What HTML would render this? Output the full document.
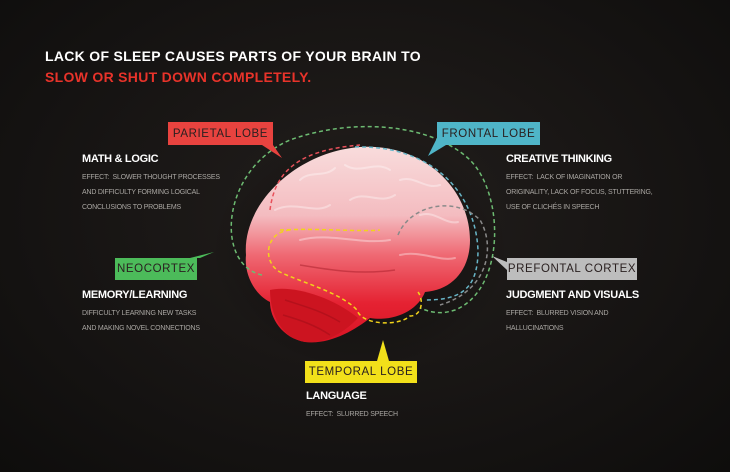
<!DOCTYPE html>
<html><head><meta charset="utf-8"><style>
html,body{margin:0;padding:0}
body{width:730px;height:472px;background:radial-gradient(ellipse at 50% 45%,#221e1c 0%,#141211 70%,#0e0d0c 100%);position:relative;overflow:hidden;font-family:"Liberation Sans",sans-serif}
.t{position:absolute;white-space:nowrap}
.h{color:#fff;font-weight:bold;font-size:11px;letter-spacing:-0.3px}
.e{color:#a9a6a2;font-size:7px;line-height:15px;letter-spacing:-0.2px}
.box{position:absolute;font-size:11.5px;letter-spacing:0.6px;display:flex;align-items:center;justify-content:center;color:#2a2020}
</style></head><body>
<div class="t" style="left:45px;top:48px;color:#fff;font-weight:bold;font-size:14px;letter-spacing:0.3px">LACK OF SLEEP CAUSES PARTS OF YOUR BRAIN TO</div>
<div class="t" style="left:45px;top:69px;color:#e8332a;font-weight:bold;font-size:14px;letter-spacing:0.3px">SLOW OR SHUT DOWN COMPLETELY.</div>

<svg width="730" height="472" style="position:absolute;left:0;top:0">
<defs>
<linearGradient id="g" x1="0" y1="0" x2="0" y2="1">
<stop offset="0" stop-color="#f8dcdc"/><stop offset="0.35" stop-color="#f4bcc0"/><stop offset="0.55" stop-color="#ef6a74"/><stop offset="0.8" stop-color="#e52232"/><stop offset="1" stop-color="#d81424"/></linearGradient>
<radialGradient id="sh" cx="0.5" cy="0.5" r="0.5"><stop offset="0" stop-color="#000" stop-opacity="0.5"/><stop offset="1" stop-color="#000" stop-opacity="0"/></radialGradient>
</defs>
<ellipse cx="360" cy="250" rx="150" ry="120" fill="url(#sh)"/>
<path d="M246,255 C242,205 295,152 360,147 C425,143 470,190 470,240 C470,270 452,290 425,292 C418,310 395,322 370,318 C355,330 330,345 305,342 C282,338 270,318 270,302 C254,294 244,274 246,255 Z" fill="url(#g)"/>
<path d="M270,290 C290,285 330,295 358,318 C345,332 325,344 305,342 C282,338 270,315 270,290Z" fill="#cc1420"/>
<g fill="none" stroke="#fff" stroke-opacity="0.35" stroke-width="2" stroke-linecap="round">
<path d="M300,180 C310,170 325,178 335,168"/><path d="M345,165 C360,175 375,160 390,170"/>
<path d="M400,180 C415,175 425,190 440,185"/><path d="M275,210 C295,200 315,215 330,205"/>
<path d="M350,200 C365,190 380,205 395,195"/><path d="M420,215 C435,210 445,225 458,222"/>
<path d="M300,240 C330,232 360,245 390,240"/><path d="M400,255 C420,250 440,262 455,258"/>
</g>
<g fill="none" stroke="#8a0a14" stroke-opacity="0.35" stroke-width="1.5">
<path d="M285,300 C300,305 320,310 340,322"/><path d="M283,315 C300,320 315,325 330,335"/>
<path d="M300,265 C330,270 360,275 395,270"/>
</g>
<g fill="none" stroke-width="1.5" stroke-dasharray="4,3">
<path d="M262,275 C215,265 220,170 290,140 C350,118 430,122 470,160 C505,195 505,290 455,310 C440,315 430,312 420,308" stroke="#6dbb72"/>
<path d="M270,210 C275,170 300,150 360,145" stroke="#e8505a"/>
<path d="M355,147 C430,145 475,190 478,250 C478,290 460,300 425,300" stroke="#68b6c8"/>
<path d="M398,235 C410,205 455,195 480,220 C495,245 490,290 440,305" stroke="#8a8a8a"/>
<path d="M290,230 C265,232 262,262 280,272 C300,282 340,292 357,310 C362,326 400,326 410,316 C422,316 424,300 418,292" stroke="#f2d31a"/>
<path d="M280,230 C320,228 360,232 380,230" stroke="#f2d31a"/>
</g>
<polygon points="262,145 273,145 282,158" fill="#e8433f"/>
<polygon points="437,138 446,145 428,156" fill="#4fb5c8"/>
<polygon points="190,258 200,258 214,252" fill="#4cbb5a"/>
<polygon points="507,262 507,270 492,256" fill="#bdbdbd"/>
<polygon points="377,361 389,361 383,340" fill="#f2e01a"/>
</svg>

<div class="box" style="left:168px;top:122px;width:105px;height:23px;background:#e8433f">PARIETAL LOBE</div>
<div class="box" style="left:437px;top:122px;width:103px;height:23px;background:#4fb5c8">FRONTAL LOBE</div>
<div class="box" style="left:115px;top:258px;width:82px;height:22px;background:#4cbb5a">NEOCORTEX</div>
<div class="box" style="left:507px;top:258px;width:130px;height:22px;background:#bdbdbd">PREFONTAL CORTEX</div>
<div class="box" style="left:305px;top:361px;width:112px;height:22px;background:#f2e01a">TEMPORAL LOBE</div>

<div class="t h" style="left:82px;top:153px">MATH &amp; LOGIC</div>
<div class="t e" style="left:82px;top:170px">EFFECT:&nbsp; SLOWER THOUGHT PROCESSES<br>AND DIFFICULTY FORMING LOGICAL<br>CONCLUSIONS TO PROBLEMS</div>
<div class="t h" style="left:506px;top:153px">CREATIVE THINKING</div>
<div class="t e" style="left:506px;top:170px">EFFECT:&nbsp; LACK OF IMAGINATION OR<br>ORIGINALITY, LACK OF FOCUS, STUTTERING,<br>USE OF CLICHÉS IN SPEECH</div>
<div class="t h" style="left:82px;top:289px">MEMORY/LEARNING</div>
<div class="t e" style="left:82px;top:306px">DIFFICULTY LEARNING NEW TASKS<br>AND MAKING NOVEL CONNECTIONS</div>
<div class="t h" style="left:506px;top:289px">JUDGMENT AND VISUALS</div>
<div class="t e" style="left:506px;top:306px">EFFECT:&nbsp; BLURRED VISION AND<br>HALLUCINATIONS</div>
<div class="t h" style="left:306px;top:390px">LANGUAGE</div>
<div class="t e" style="left:306px;top:407px">EFFECT:&nbsp; SLURRED SPEECH</div>
</body></html>
